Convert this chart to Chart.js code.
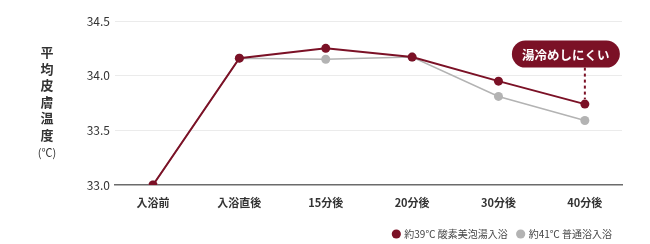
<!DOCTYPE html>
<html lang="ja">
<head>
<meta charset="utf-8">
<script src="https://cdn.jsdelivr.net/npm/chart.js@4/dist/chart.umd.min.js"></script>
<style>
    html, body { margin: 0; padding: 0; background: #fff; }
    #wrap { position: relative; width: 650px; height: 244px; }
    #ytitle {
        position: absolute; left: 32px; top: 44px; width: 30px;
        text-align: center; font-family: "Noto Sans CJK JP", sans-serif;
        font-size: 13px; font-weight: bold; line-height: 16.5px; color: #333;
    }
    #ytitle .unit { display: block; margin-top: 1px; font-size: 11px; font-weight: normal; }
</style>
</head>
<body>
<div id="wrap">
    <canvas id="skinTempChart"></canvas>
    <div id="ytitle">平<br>均<br>皮<br>膚<br>温<br>度<span class="unit">(℃)</span></div>
</div>
<script>
document.addEventListener("DOMContentLoaded", function () {

    const font = "'Noto Sans CJK JP', 'Noto Sans', sans-serif";
    const maroon = "#7b1126";
    const gray = "#b3b3b3";

    // data
    const categories = ["入浴前", "入浴直後", "15分後", "20分後", "30分後", "40分後"];
    const seriesNames = ["約39℃ 酸素美泡湯入浴", "約41℃ 普通浴入浴"];
    const oxygenBath = [33.0, 34.16, 34.25, 34.17, 33.95, 33.74];
    const normalBath = [33.0, 34.16, 34.15, 34.17, 33.81, 33.59];
    const yTicks = [33.0, 33.5, 34.0, 34.5];
    const calloutText = "湯冷めしにくい";

    const toPoints = arr => arr.map((v, i) => ({ x: i, y: v }));

    // callout pill + dashed leader on the last point of the first series
    const callout = {
        id: "callout",
        afterDatasetsDraw(chart) {
            const ctx = chart.ctx;
            const xs = chart.scales.x, ys = chart.scales.y;
            const last = oxygenBath.length - 1;
            const px = xs.getPixelForValue(last);
            const py = ys.getPixelForValue(oxygenBath[last]);
            const cx = px - 19, cy = py - 50;
            const w = 108, h = 27;

            ctx.save();
            ctx.strokeStyle = maroon;
            ctx.lineWidth = 2;
            ctx.setLineDash([3, 3]);
            ctx.beginPath();
            ctx.moveTo(px, cy + h / 2);
            ctx.lineTo(px, py - 5);
            ctx.stroke();
            ctx.setLineDash([]);

            ctx.fillStyle = maroon;
            ctx.beginPath();
            ctx.roundRect(cx - w / 2, cy - h / 2, w, h, h / 2);
            ctx.fill();

            ctx.fillStyle = "#fff";
            ctx.font = "bold 12.5px " + font;
            ctx.textAlign = "center";
            ctx.textBaseline = "middle";
            ctx.fillText(calloutText, cx, cy + 1);
            ctx.restore();
        }
    };

    new Chart(document.getElementById("skinTempChart"), {
        type: "line",
        data: {
            datasets: [{
                label: seriesNames[0],
                data: toPoints(oxygenBath),
                borderColor: maroon,
                backgroundColor: maroon,
                borderWidth: 2,
                pointRadius: 4.5,
                pointBorderWidth: 0,
                pointStyle: "circle",
                tension: 0
            }, {
                label: seriesNames[1],
                data: toPoints(normalBath),
                borderColor: gray,
                backgroundColor: gray,
                borderWidth: 1.5,
                pointRadius: 4.5,
                pointBorderWidth: 0,
                pointStyle: "circle",
                tension: 0
            }]
        },
        options: {
            responsive: true,
            maintainAspectRatio: false,
            animation: false,
            layout: { padding: { top: 21, right: 28, left: 0, bottom: -5 } },
            plugins: {
                tooltip: { enabled: false },
                legend: {
                    position: "bottom",
                    align: "end",
                    labels: {
                        usePointStyle: true,
                        boxWidth: 6,
                        boxHeight: 6.5,
                        padding: 10,
                        color: "#444",
                        font: { family: font, size: 10 }
                    }
                }
            },
            scales: {
                x: {
                    type: "linear",
                    min: -0.44,
                    max: categories.length - 1 + 0.43,
                    afterBuildTicks: s => { s.ticks = categories.map((c, i) => ({ value: i })); },
                    afterFit: s => { s.height = 34; },
                    ticks: {
                        callback: v => categories[v],
                        padding: 3,
                        color: "#333",
                        font: { family: font, size: 11, weight: "bold" },
                        maxRotation: 0
                    },
                    grid: { display: false },
                    border: { display: true, color: "#6b6b6b", width: 1.5 }
                },
                y: {
                    min: 33.0,
                    max: 34.5,
                    afterBuildTicks: s => { s.ticks = yTicks.map(v => ({ value: v })); },
                    afterFit: s => { s.width = 115; },
                    ticks: {
                        callback: v => v.toFixed(1),
                        padding: 5,
                        color: "#333",
                        font: { family: font, size: 12 }
                    },
                    grid: {
                        drawTicks: false,
                        color: ctx => ctx.tick && ctx.tick.value === 33 ? "rgba(0,0,0,0)" : "#ebebeb",
                        lineWidth: 1
                    },
                    border: { display: false }
                }
            }
        },
        plugins: [callout]
    });

});
</script>
</body>
</html>
